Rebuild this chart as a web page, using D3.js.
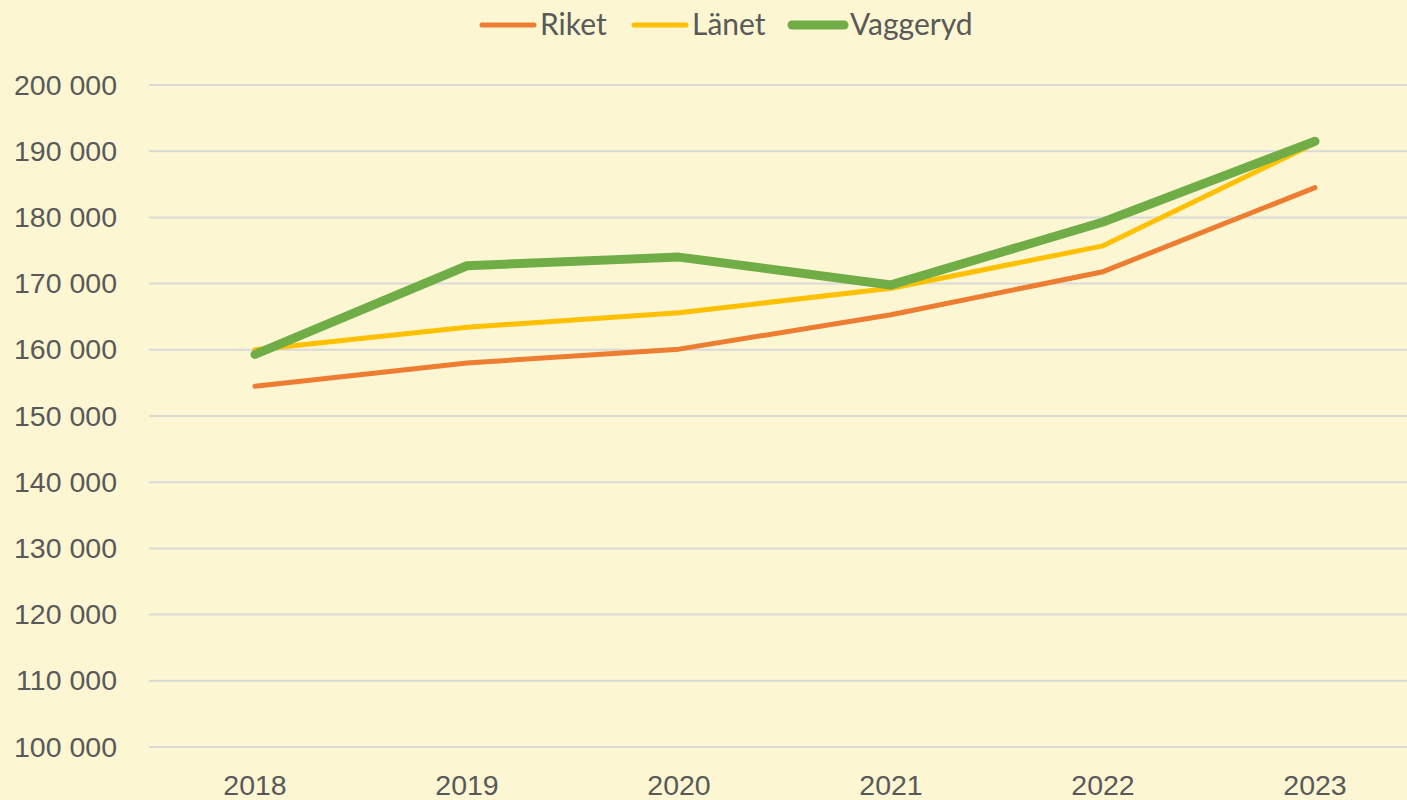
<!DOCTYPE html>
<html>
<head>
<meta charset="utf-8">
<script src="https://cdn.jsdelivr.net/npm/d3@7"></script>
<style>
  html, body { margin: 0; padding: 0; background: #FCF6D3; }
  svg { display: block; font-family: "Lato", "Open Sans", sans-serif; }
  .tick text { fill: #595959; font-size: 28.5px; }
  .legend text { fill: #595959; font-size: 30px; }
</style>
</head>
<body>
<div id="chart"></div>
<script>
// data
var years = ["2018", "2019", "2020", "2021", "2022", "2023"];
var riket = [154500, 158000, 160100, 165300, 171800, 184500];
var lanet = [160000, 163400, 165600, 169300, 175700, 191200];
var vaggeryd = [159300, 172700, 174000, 169800, 179300, 191500];
var yTicks = [100000, 110000, 120000, 130000, 140000, 150000, 160000, 170000, 180000, 190000, 200000];

var series = [
    { name: "Riket", values: riket, color: "#ED7D31", width: 5 },
    { name: "Länet", values: lanet, color: "#FFC000", width: 5 },
    { name: "Vaggeryd", values: vaggeryd, color: "#70AD47", width: 9 }
];

var W = 1407, H = 800;
var margin = { top: 85, right: -14, bottom: 53, left: 149 };
var width = W - margin.left - margin.right,
    height = H - margin.top - margin.bottom;

var svg = d3.select("#chart").append("svg")
    .attr("width", W)
    .attr("height", H);

var g = svg.append("g")
    .attr("transform", "translate(" + margin.left + "," + margin.top + ")");

var x = d3.scaleBand().domain(years).range([0, width]).padding(0);
var y = d3.scaleLinear().domain([100000, 200000]).range([height, 0]);

var fmt = function (d) { return d3.format(",")(d).replace(/,/g, " "); };

// gridlines
g.selectAll(".grid")
    .data(yTicks)
    .enter().append("line")
    .attr("class", "grid")
    .attr("x1", 0)
    .attr("x2", W - margin.left)
    .attr("y1", function (d) { return y(d); })
    .attr("y2", function (d) { return y(d); })
    .style("stroke", "#D9D9D9")
    .style("stroke-width", 2);

// y axis
var yAxis = g.append("g")
    .call(d3.axisLeft(y).tickValues(yTicks).tickFormat(fmt).tickSize(0).tickPadding(32));
yAxis.select(".domain").remove();

// x axis
var xAxis = g.append("g")
    .attr("transform", "translate(0," + height + ")")
    .call(d3.axisBottom(x).tickSize(0).tickPadding(28));
xAxis.select(".domain").remove();

// lines
var line = d3.line()
    .x(function (d, i) { return x(years[i]) + x.bandwidth() / 2; })
    .y(function (d) { return y(d); });

g.selectAll(".series")
    .data(series)
    .enter().append("path")
    .attr("class", "series")
    .attr("d", function (s) { return line(s.values); })
    .style("fill", "none")
    .style("stroke", function (s) { return s.color; })
    .style("stroke-width", function (s) { return s.width; })
    .style("stroke-linecap", "round")
    .style("stroke-linejoin", "round");

// legend
var legendX = [482, 634, 792];
var legend = svg.append("g").attr("class", "legend");
var items = legend.selectAll("g")
    .data(series)
    .enter().append("g")
    .attr("transform", function (s, i) { return "translate(" + legendX[i] + ",25)"; });

items.append("line")
    .attr("x1", 0).attr("x2", 52)
    .attr("y1", 0).attr("y2", 0)
    .style("stroke", function (s) { return s.color; })
    .style("stroke-width", function (s) { return s.width; })
    .style("stroke-linecap", "round");

items.append("text")
    .attr("x", 58)
    .attr("y", 10)
    .text(function (s) { return s.name; });
</script>
</body>
</html>
